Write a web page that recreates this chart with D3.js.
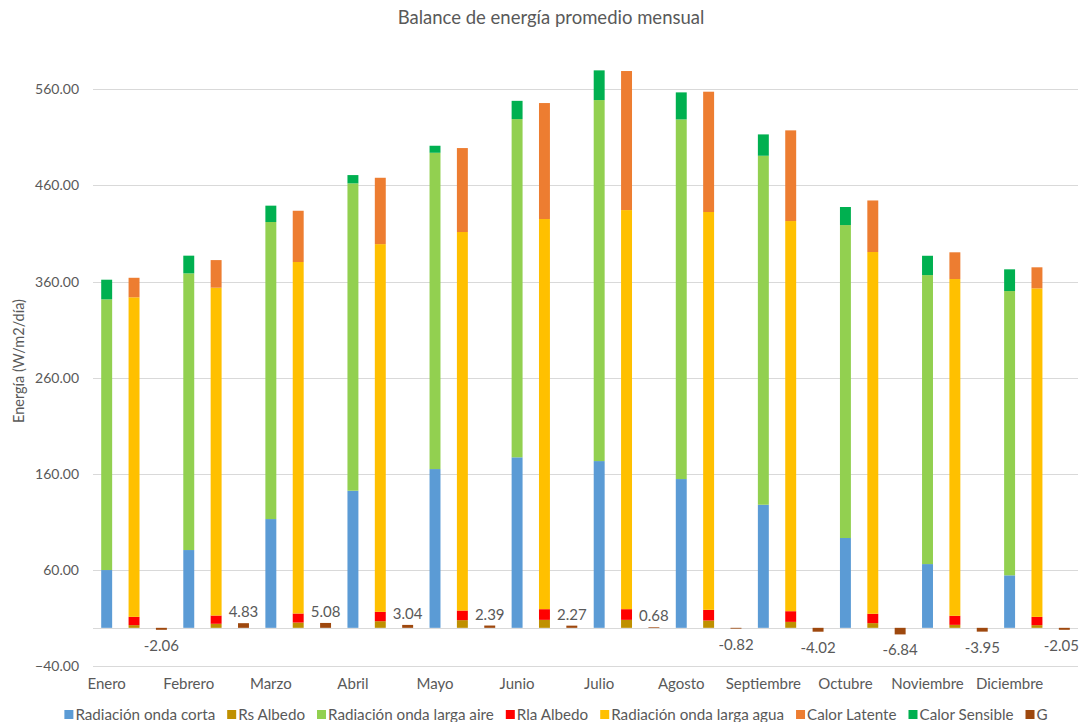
<!DOCTYPE html>
<html>
<head>
<meta charset="utf-8">
<script src="https://cdn.jsdelivr.net/npm/d3@7"></script>
<style>
  html, body { margin: 0; padding: 0; background: #fff; }
  svg { display: block; }
  text { font-family: Lato, "Open Sans", sans-serif; fill: #595959; }
</style>
</head>
<body>
<svg id="chart" width="1080" height="722"></svg>
<script>
// Monthly average energy balance (W/m2/día)
const months = ["Enero","Febrero","Marzo","Abril","Mayo","Junio","Julio","Agosto","Septiembre","Octubre","Noviembre","Diciembre"];

// Incoming column
const radOndaCorta      = [60.1, 80.9, 113.1, 142.6, 165.1, 177.3, 173.4, 154.7, 128.0, 93.4, 66.3, 54.6];
const radOndaLargaAire  = [281.5, 287.7, 308.9, 319.6, 328.9, 351.7, 375.4, 374.0, 362.9, 325.4, 300.5, 295.6];
const calorSensible     = [20.4, 18.4, 17.0, 8.6, 7.3, 19.0, 30.9, 28.1, 22.2, 18.8, 20.1, 22.6];

// Outgoing column
const rsAlbedo          = [2.8, 4.2, 5.5, 6.9, 8.0, 8.3, 8.3, 7.6, 6.2, 4.9, 3.1, 2.8];
const rlaAlbedo         = [8.6, 8.6, 9.4, 9.7, 10.0, 11.1, 11.1, 11.1, 11.1, 9.7, 9.4, 8.6];
const radOndaLargaAgua  = [332.3, 340.9, 365.5, 382.4, 393.6, 405.7, 415.0, 413.7, 405.7, 376.2, 350.2, 341.6];
const calorLatente      = [20.3, 28.7, 53.3, 69.0, 87.3, 120.6, 144.6, 125.1, 94.3, 53.6, 27.8, 21.9];

// Ground heat flux
const gFlux             = [-2.06, 4.83, 5.08, 3.04, 2.39, 2.27, 0.68, -0.82, -4.02, -6.84, -3.95, -2.05];

const yTicks = [-40, 60, 160, 260, 360, 460, 560];

const seriesKeys  = ["Radiación onda corta","Rs Albedo","Radiación onda larga aire","Rla Albedo","Radiación onda larga agua","Calor Latente","Calor Sensible","G"];
const seriesColor = ["#5B9BD5","#BF9000","#92D050","#FF0000","#FFC000","#ED7D31","#00B050","#9E480E"];

// Three slots per month: incoming, outgoing, G
const rows = [];
months.forEach((m, i) => {
  const base = {}; seriesKeys.forEach(k => base[k] = 0);
  rows.push(Object.assign({}, base, {slot: i * 3, month: m,
    "Radiación onda corta": radOndaCorta[i],
    "Radiación onda larga aire": radOndaLargaAire[i],
    "Calor Sensible": calorSensible[i]}));
  rows.push(Object.assign({}, base, {slot: i * 3 + 1, month: m,
    "Rs Albedo": rsAlbedo[i],
    "Rla Albedo": rlaAlbedo[i],
    "Radiación onda larga agua": radOndaLargaAgua[i],
    "Calor Latente": calorLatente[i]}));
  rows.push(Object.assign({}, base, {slot: i * 3 + 2, month: m, "G": gFlux[i], gLabel: gFlux[i]}));
});

const svg = d3.select("#chart");
const plot = {left: 93, right: 1078};

const x = d3.scaleBand()
  .domain(rows.map(r => r.slot))
  .range([plot.left, plot.right])
  .paddingInner(0.6)
  .paddingOuter(0.3);

const y = d3.scaleLinear().domain([-40, 560]).range([666.3, 89.3]);

// Gridlines
svg.append("g").selectAll("line")
  .data(yTicks.concat([0]))
  .join("line")
  .attr("x1", plot.left).attr("x2", plot.right)
  .attr("y1", d => Math.round(y(d)) + 0.5).attr("y2", d => Math.round(y(d)) + 0.5)
  .attr("stroke", "#d9d9d9").attr("stroke-width", 1);

// Y axis labels
const yAxis = d3.axisLeft(y).tickValues(yTicks).tickFormat(d3.format(".2f")).tickSize(0).tickPadding(0);
const yG = svg.append("g").attr("transform", "translate(79,0)").call(yAxis);
yG.select(".domain").remove();
yG.selectAll("text").attr("font-size", 14).attr("fill", "#595959").style("font-family", "Lato, sans-serif");

// Stacked bars
const stack = d3.stack().keys(seriesKeys).offset(d3.stackOffsetDiverging);
const layers = stack(rows);

svg.append("g").selectAll("g")
  .data(layers)
  .join("g")
  .attr("fill", (d, i) => seriesColor[i])
  .selectAll("rect")
  .data(d => d.filter(p => p[1] !== p[0]))
  .join("rect")
  .attr("x", d => x(d.data.slot))
  .attr("width", x.bandwidth())
  .attr("y", d => y(Math.max(d[0], d[1])))
  .attr("height", d => Math.abs(y(d[0]) - y(d[1])));

// G value labels
const gLabels = svg.append("g").selectAll("text")
  .data(rows.filter(r => r.gLabel !== undefined))
  .join("text")
  .attr("x", d => x(d.slot) + x.bandwidth() / 2)
  .attr("y", d => d.gLabel >= 0 ? y(d.gLabel) - 6 : y(d.gLabel) + 21)
  .attr("text-anchor", "middle")
  .attr("font-size", 15)
  .attr("fill", "#404040")
  .text(d => d.gLabel.toFixed(2));
// keep the last label inside the canvas
gLabels.each(function() {
  const b = this.getBBox();
  if (b.x + b.width > 1079) d3.select(this).attr("x", +d3.select(this).attr("x") - (b.x + b.width - 1079));
});

// Month labels under the first slot of each month
svg.append("g").selectAll("text")
  .data(rows.filter(r => r.slot % 3 === 0))
  .join("text")
  .attr("x", d => x(d.slot) + x.bandwidth() / 2)
  .attr("y", 689)
  .attr("text-anchor", "middle")
  .attr("font-size", 15)
  .text(d => d.month);

// Y axis title
svg.append("text")
  .attr("transform", "translate(24,361) rotate(-90)")
  .attr("text-anchor", "middle")
  .attr("font-size", 14.5)
  .text("Energía (W/m2/día)");

// Title
svg.append("text")
  .attr("x", 551).attr("y", 24)
  .attr("text-anchor", "middle")
  .attr("font-size", 18.5)
  .text("Balance de energía promedio mensual");

// Legend
const legend = svg.append("g");
const items = legend.selectAll("g").data(seriesKeys).join("g");
items.append("rect").attr("width", 9).attr("height", 9).attr("y", -10)
  .attr("fill", (d, i) => seriesColor[i]);
items.append("text").attr("x", 11).attr("font-size", 15.2).text(d => d);
const widths = [];
items.each(function() { widths.push(this.getBBox().width); });
const gap = 12;
const total = d3.sum(widths) + gap * (widths.length - 1);
let start = 556 - total / 2;
items.attr("transform", (d, i) => {
  const tx = start; start += widths[i] + gap;
  return `translate(${tx},720)`;
});
</script>
</body>
</html>
